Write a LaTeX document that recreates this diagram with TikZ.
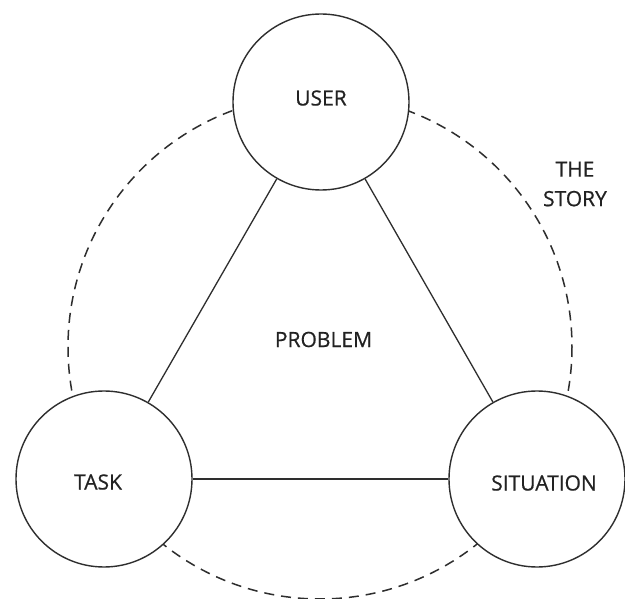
\documentclass[tikz,border=0pt]{standalone}
\usepackage{fontspec}
\setmainfont{Open Sans}
\newfontfamily\lblfont{Open Sans}[FakeBold=0.5]
\definecolor{linec}{HTML}{2e2e2e}
\definecolor{textc}{HTML}{222222}
\begin{document}
\begin{tikzpicture}[x=1pt,y=-1pt,
  ring/.style={circle,draw=linec,line width=1.4pt,fill=white,minimum size=176pt,inner sep=0pt},
  lbl/.style={font=\lblfont\fontsize{21}{29.5}\selectfont,text=textc,inner sep=0pt},
  link/.style={draw=linec,line width=1.3pt},
  storyline/.style={draw=linec,line width=1.5pt,dash pattern=on 10pt off 7pt}]
\useasboundingbox[fill=white] (0,0) rectangle (625,599);
\coordinate (sc) at (320,347);
\draw[storyline] (sc) circle[radius=252];
\node[ring] (user) at (321,102) {};
\node[ring] (task) at (104,479) {};
\node[ring] (sit) at (537,479) {};
\draw[link] (user) -- (task);
\draw[link] (user) -- (sit);
\draw[link] (task) -- (sit);
\node[lbl] (userl) at (321,98) {USER};
\node[lbl] (taskl) at (98,482) {TASK};
\node[lbl] (sitl) at (544,483) {SITUATION};
\node[lbl] (probl) at (323.5,339.5) {PROBLEM};
\node[lbl,align=center] (storyl) at (575,184) {THE\\STORY};
\end{tikzpicture}
\end{document}
